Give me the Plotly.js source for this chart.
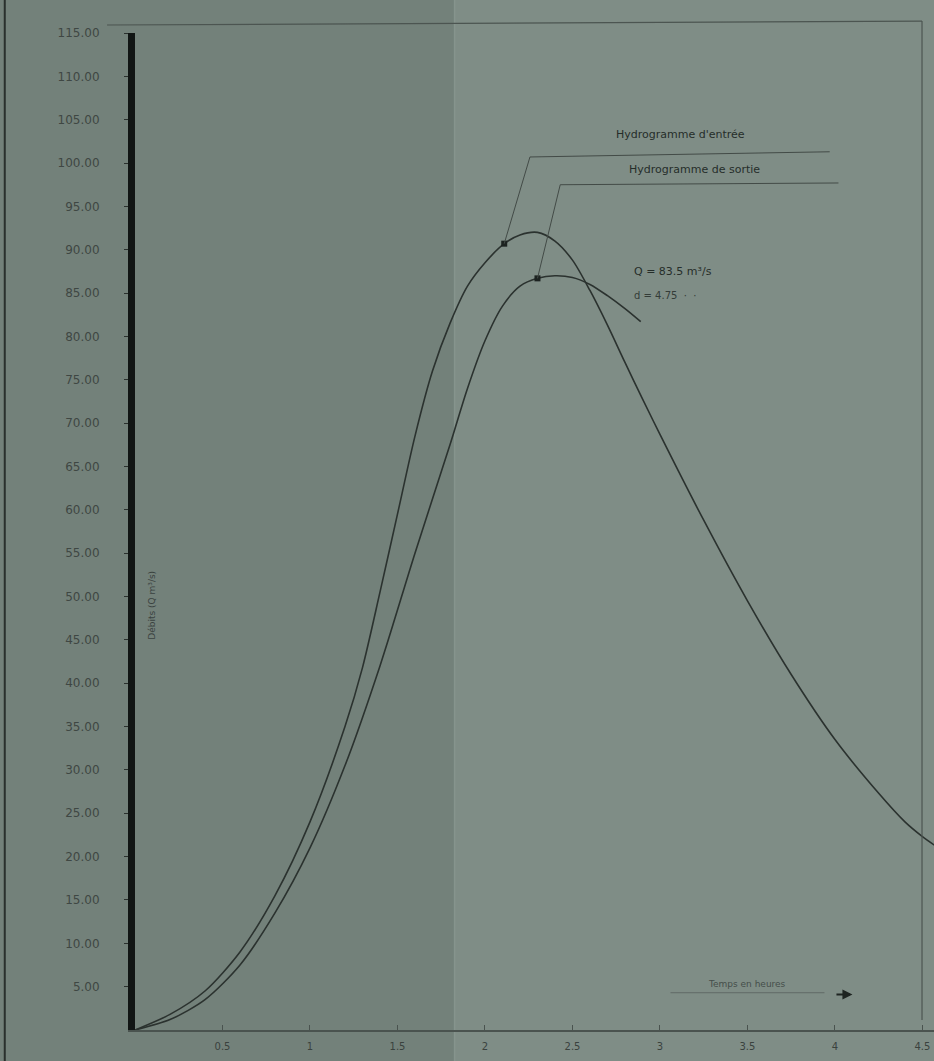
<!DOCTYPE html>
<html>
<head>
<meta charset="utf-8">
<script src="https://cdn.plot.ly/plotly-3.0.1.min.js"></script>
<style>html,body{margin:0;padding:0;background:#73817a;}#chart{width:934px;height:1061px;}</style>
</head>
<body>
<div id="chart"></div>
<script>
// Hydrogramme d'entrée (inflow)
const tIn = [0, 0.2, 0.4, 0.6, 0.8, 1.0, 1.2, 1.3, 1.4, 1.5, 1.6, 1.7, 1.8, 1.9, 2.0, 2.11, 2.2, 2.3, 2.4, 2.5, 2.6, 2.7, 2.8, 2.9, 3.0, 3.25, 3.5, 3.75, 4.0, 4.25, 4.4, 4.5, 4.57];
const qIn = [0, 1.8, 4.5, 9.0, 15.5, 24.0, 35.0, 41.8, 50.5, 59.5, 68.5, 76.0, 81.5, 85.8, 88.5, 90.7, 91.7, 92.0, 91.0, 88.8, 85.3, 81.3, 77.0, 72.8, 68.7, 58.8, 49.5, 41.0, 33.5, 27.3, 24.0, 22.3, 21.3];
// Hydrogramme de sortie (outflow)
const tOut = [0, 0.2, 0.4, 0.6, 0.8, 1.0, 1.2, 1.4, 1.6, 1.8, 1.9, 2.0, 2.1, 2.2, 2.3, 2.4, 2.5, 2.6, 2.7, 2.8, 2.89];
const qOut = [0, 1.2, 3.5, 7.5, 13.5, 21.0, 30.5, 42.0, 55.0, 67.5, 74.0, 79.5, 83.5, 85.8, 86.7, 87.0, 86.8, 86.0, 84.7, 83.2, 81.7];
// marked points on the curves
const markIn = 15;   // index in tIn/qIn
const markOut = 14;  // index in tOut/qOut
// axis ticks
const yTickVals = [5,10,15,20,25,30,35,40,45,50,55,60,65,70,75,80,85,90,95,100,105,110,115];
const yTickText = yTickVals.map(v => v.toFixed(2));
const xTickVals = [0.5, 1, 1.5, 2, 2.5, 3, 3.5, 4, 4.5];
const xTickText = ["0.5", "1", "1.5", "2", "2.5", "3", "3.5", "4", "4.5"];
// labels
const labelIn = "Hydrogramme d'entrée";
const labelOut = "Hydrogramme de sortie";
const noteQ = "Q = 83.5 m³/s";
const noteD = "d = 4.75";
const xTitle = "Temps en heures";
const yTitle = "Débits (Q m³/s)";

const lineCol = '#2b322f';
const traces = [
  {x: tIn, y: qIn, mode: 'lines', line: {color: lineCol, width: 1.6, shape: 'spline', smoothing: 0.8}, name: labelIn, hoverinfo: 'skip'},
  {x: tOut, y: qOut, mode: 'lines', line: {color: lineCol, width: 1.6, shape: 'spline', smoothing: 0.8}, name: labelOut, hoverinfo: 'skip'},
  {x: [tIn[markIn], tOut[markOut]], y: [qIn[markIn], qOut[markOut]], mode: 'markers',
   marker: {color: '#1c2220', size: 6, symbol: 'square'}, hoverinfo: 'skip', showlegend: false}
];

const leaderCol = '#434b47';
const shapes = [
  // lighter half of the sheet (fold)
  {type: 'rect', xref: 'paper', yref: 'paper', x0: 0.4, x1: 1.02, y0: -0.04, y1: 1.04, fillcolor: '#7f8d86', line: {width: 0}, layer: 'below'},
  {type: 'line', xref: 'paper', yref: 'paper', x0: 0.4, x1: 0.4, y0: -0.04, y1: 1.04, line: {color: '#86948d', width: 1.5}, layer: 'below'},
  // frame
  {type: 'line', xref: 'paper', yref: 'paper', x0: -0.035, x1: 0.985, y0: 1.008, y1: 1.012, line: {color: '#4c5551', width: 1.2}},
  {type: 'line', xref: 'paper', yref: 'paper', x0: 0.985, x1: 0.985, y0: 1.012, y1: 0.01, line: {color: '#4c5551', width: 1.2}},
  // left edge line of the sheet
  {type: 'line', xref: 'paper', yref: 'paper', x0: -0.163, x1: -0.163, y0: -0.04, y1: 1.04, line: {color: '#2a302d', width: 2}},
  // leader lines
  {type: 'line', x0: tIn[markIn], y0: qIn[markIn], x1: 2.257, y1: 100.7, line: {color: leaderCol, width: 1}},
  {type: 'line', x0: 2.257, y0: 100.7, x1: 3.97, y1: 101.3, line: {color: leaderCol, width: 1}},
  {type: 'line', x0: tOut[markOut], y0: qOut[markOut], x1: 2.43, y1: 97.5, line: {color: leaderCol, width: 1}},
  {type: 'line', x0: 2.43, y0: 97.5, x1: 4.02, y1: 97.7, line: {color: leaderCol, width: 1}},
  // x title underline
  {type: 'line', x0: 3.06, y0: 4.3, x1: 3.94, y1: 4.3, line: {color: '#59625e', width: 0.8}}
];

const txtFont = {family: 'DejaVu Sans, sans-serif', size: 11, color: '#262d2a'};
const annotations = [
  {x: 3.12, y: 103.3, text: labelIn, showarrow: false, font: txtFont},
  {x: 3.2, y: 99.2, text: labelOut, showarrow: false, font: txtFont},
  {x: 2.84, y: 87.5, xanchor: 'left', text: noteQ, showarrow: false, font: {family: 'DejaVu Sans, sans-serif', size: 11, color: '#262d2a'}},
  {x: 2.84, y: 84.7, xanchor: 'left', text: noteD + '  ·  ·', showarrow: false, font: {family: 'DejaVu Sans, sans-serif', size: 10, color: '#343c38'}},
  {x: 3.5, y: 5.3, text: xTitle, showarrow: false, font: {family: 'DejaVu Sans, sans-serif', size: 9, color: '#454e4a'}},
  {x: 4.1, y: 4.1, ax: 4.0, ay: 4.1, axref: 'x', ayref: 'y', text: '', showarrow: true, arrowhead: 2, arrowsize: 1, arrowwidth: 2, arrowcolor: '#1e2421'},
  {x: 0.1, y: 49, text: yTitle, textangle: -90, showarrow: false, font: {family: 'DejaVu Sans, sans-serif', size: 9, color: '#3a423f'}}
];

const layout = {
  width: 934, height: 1061,
  margin: {l: 135, r: 0, t: 33, b: 31},
  paper_bgcolor: '#73817a',
  plot_bgcolor: 'rgba(0,0,0,0)',
  showlegend: false,
  xaxis: {
    range: [0, 4.566], tickvals: xTickVals, ticktext: xTickText,
    showgrid: false, zeroline: false, showline: true, linecolor: '#4a534f', linewidth: 1.5,
    ticks: 'inside', ticklen: 5, tickcolor: '#4a534f', ticklabelstandoff: 6,
    tickfont: {family: 'DejaVu Sans, sans-serif', size: 10, color: '#3a423e'}
  },
  yaxis: {
    range: [0, 115], tickvals: yTickVals, ticktext: yTickText,
    showgrid: false, zeroline: false, showline: true, linecolor: '#111514', linewidth: 7,
    ticks: 'outside', ticklen: 4, tickcolor: '#2a302d', ticklabelstandoff: 22,
    tickfont: {family: 'DejaVu Sans, sans-serif', size: 12, color: '#3f4743'}
  },
  shapes: shapes,
  annotations: annotations
};

Plotly.newPlot('chart', traces, layout, {displayModeBar: false, staticPlot: true});
</script>
</body>
</html>
